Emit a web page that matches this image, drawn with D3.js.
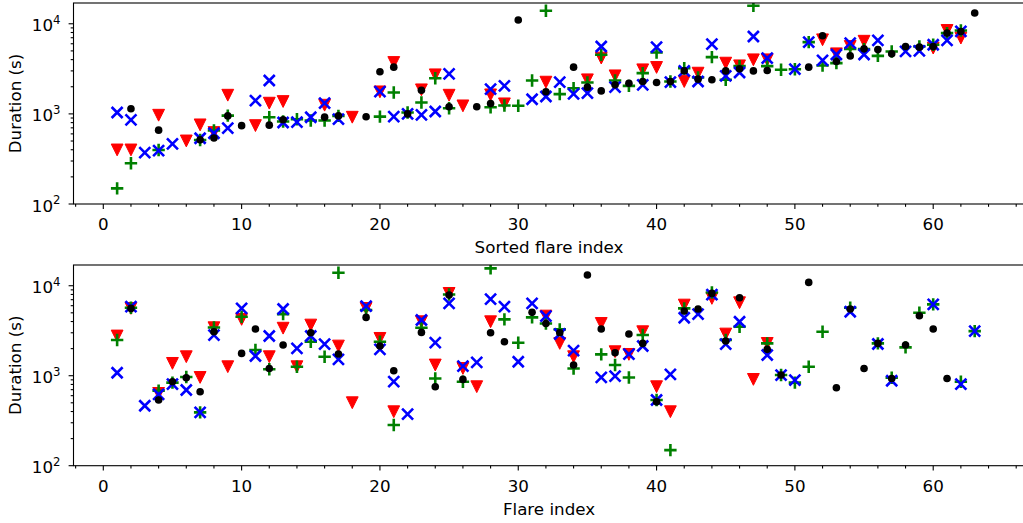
<!DOCTYPE html>
<html>
<head>
<meta charset="utf-8">
<script src="https://cdn.jsdelivr.net/npm/d3@7"></script>
<style>
  html, body { margin: 0; padding: 0; background: #fff; }
  svg { display: block; font-family: "DejaVu Sans", sans-serif; }
</style>
</head>
<body>
<svg id="chart" width="1023" height="523"></svg>
<script>
// Flare numbers shared by both panels
const flareIndex = d3.range(1, 64);

// Durations (s), ordered by sorted flare index (upper panel)
const sortedDot = [
  null,1140,null,660,null,null,515,540,950,740,
  null,750,860,null,null,920,950,null,930,2930,
  3300,1000,1830,null,1200,null,1200,1300,null,11000,
  null,1760,null,3300,1980,1800,2100,2190,2290,2230,
  2290,3000,2430,2390,3000,3160,3000,3030,null,null,
  3300,7360,3810,4400,5270,5170,4640,5600,5500,5600,
  7870,8220,13150];
const sortedCross = [
  1035,858,372,391,464,null,537,610,694,null,
  1406,2345,802,811,918,1315,873,null,null,1764,
  933,1000,975,1062,2783,null,null,1880,2048,null,
  1455,1560,2255,1668,1697,5598,1978,null,2098,5508,
  2255,3006,2286,5944,2643,2878,7228,4160,null,3133,
  6253,3917,4560,6095,4560,6531,null,4932,5012,5848,
  6531,8222,null];
const sortedPlus = [
  149,283,null,398,null,null,514,653,957,null,
  null,918,822,873,843,843,950,null,null,933,
  1726,1035,1336,2490,1156,null,null,1185,1238,1230,
  2345,13940,1656,1928,2229,4526,2345,2048,2831,4800,
  2286,3214,2535,4266,2388,3388,15850,3388,3083,3133,
  6253,3443,3656,5248,5230,4406,4932,null,5598,5848,
  7870,8432,null];
const sortedTriangle = [
  398,398,null,966,null,501,755,621,1611,null,
  741,1315,1371,null,null,1248,null,918,null,1755,
  3715,null,1848,2712,1611,1227,null,1625,1292,null,
  null,2249,null,null,2388,4160,2643,null,3083,3275,
  null,2286,2831,null,3656,3414,3981,3981,null,null,
  null,6636,4642,5598,6400,null,null,null,null,5370,
  8432,6938,null];

// Durations (s), ordered by flare index (lower panel)
const flareDot = [
  null,5598,null,537,858,950,664,3083,null,1771,
  3302,1205,2192,null,3006,null,1741,null,4446,2137,
  1137,null,3030,755,7870,910,null,3006,2388,null,
  5058,3811,3006,1315,13150,3302,1800,2905,2286,514,
  null,5236,5508,8222,2427,7357,null,1963,1017,null,
  10890,null,736,5508,1205,2286,933,2192,4642,3302,
  933,null,null];
const flareCross = [
  1079,5848,464,621,808,694,391,2831,null,5598,
  1656,2763,5508,2013,2763,2249,1517,null,5944,1963,
  858,375,4160,2329,6368,1279,1406,7111,5848,1430,
  6368,4600,2905,1897,null,957,991,1740,2137,537,
  1035,4406,4842,7980,2249,3981,null,1698,1017,895,
  null,null,null,5140,null,2250,879,null,null,6210,
  null,808,3133];
const flarePlus = [
  2490,5700,null,681,839,969,391,3440,null,4526,
  1928,1180,4842,1259,2388,1626,13940,null,5370,2388,
  283,null,3414,933,8000,858,null,15600,4226,2329,
  4446,3811,3275,1205,null,1726,1315,957,2831,537,
  149,5598,null,8400,2500,3499,null,2286,1017,838,
  1259,3083,null,5700,null,2286,950,2066,5012,6210,
  null,858,3133];
const flareTriangle = [
  2763,5598,null,636,1371,1626,957,3414,1259,4226,
  null,1626,3375,1259,3656,null,2137,501,5598,2600,
  398,null,3981,1315,8222,1205,755,3981,null,null,
  null,4600,2286,1626,null,3811,1848,1726,3083,755,
  398,6095,null,7228,2905,6473,910,2286,null,null,
  null,null,null,null,null,null,null,null,null,null,
  null,null,null];

// Axis settings
const xMajorTicks = [0, 10, 20, 30, 40, 50, 60];
const xMinorTicks = [-2,2,4,6,8,12,14,16,18,22,24,26,28,32,34,36,38,42,44,46,48,52,54,56,58,62,64,66];
const yMajorTicks = [100, 1000, 10000];
const yMajorExp = ["2", "3", "4"];
const yLimits = [100, 17000];
const xLimits = [-2.154, 66.6];

const svg = d3.select("#chart");
const left = 73.5, right = 1024.5;
const FONT = 16.7;

const x = d3.scaleLinear().domain(xLimits).range([left, right]);

function drawPanel(top, bottom, series, xLabel) {
  const y = d3.scaleLog().domain(yLimits).range([bottom, top]);
  const g = svg.append("g");

  // y minor ticks (2..9 per decade)
  const yMinor = [];
  [100, 1000, 10000].forEach(d => {
    [2,3,4,5,6,7,8,9].forEach(m => { if (d * m <= yLimits[1]) yMinor.push(d * m); });
  });

  const ax = g.append("g").attr("stroke", "#000").attr("stroke-width", 1.1);
  ax.selectAll(".ymin").data(yMinor).join("line")
    .attr("x1", left - 2.8).attr("x2", left)
    .attr("y1", d => y(d)).attr("y2", d => y(d));
  ax.selectAll(".ymaj").data(yMajorTicks).join("line")
    .attr("x1", left - 4.9).attr("x2", left)
    .attr("y1", d => y(d)).attr("y2", d => y(d));
  ax.selectAll(".xmin").data(xMinorTicks).join("line")
    .attr("x1", d => x(d)).attr("x2", d => x(d))
    .attr("y1", bottom).attr("y2", bottom + 2.8);
  ax.selectAll(".xmaj").data(xMajorTicks).join("line")
    .attr("x1", d => x(d)).attr("x2", d => x(d))
    .attr("y1", bottom).attr("y2", bottom + 4.9);

  // y tick labels as 10^n
  const yl = g.selectAll(".ylab").data(yMajorTicks).join("text")
    .attr("x", 60.5).attr("y", d => y(d) + 7.6)
    .attr("text-anchor", "end").attr("font-size", FONT).attr("fill", "#000");
  yl.append("tspan").text("10");
  yl.append("tspan").attr("dy", -7.6).attr("font-size", 11.7).text((d, i) => yMajorExp[i]);

  // x tick labels
  g.selectAll(".xlab").data(xMajorTicks).join("text")
    .attr("x", d => x(d)).attr("y", bottom + 26)
    .attr("text-anchor", "middle").attr("font-size", FONT).attr("fill", "#000")
    .text(d => d);

  // axis titles
  g.append("text")
    .attr("x", (left + right) / 2).attr("y", bottom + 49)
    .attr("text-anchor", "middle").attr("font-size", FONT).text(xLabel);
  g.append("text")
    .attr("transform", `translate(20.7,${(top + bottom) / 2}) rotate(-90)`)
    .attr("text-anchor", "middle").attr("font-size", FONT).text("Duration (s)");

  // markers
  const pts = arr => flareIndex.map((k, i) => ({ k, v: arr[i] })).filter(d => d.v != null);
  const clip = "clip" + Math.round(top);
  g.append("clipPath").attr("id", clip).append("rect")
    .attr("x", left).attr("y", top).attr("width", right - left).attr("height", bottom - top);
  const m = g.append("g").attr("clip-path", `url(#${clip})`);

  const tw = 5.9;
  m.append("g").selectAll("path").data(pts(series.triangle)).join("path")
    .attr("d", d => {
      const cx = x(d.k), cy = y(d.v);
      return `M${cx - tw},${cy - tw}L${cx + tw},${cy - tw}L${cx},${cy + tw}Z`;
    })
    .attr("fill", "#ff0000").attr("stroke", "#ff0000").attr("stroke-width", 1)
    .attr("stroke-linejoin", "miter");

  const pw = 6.2;
  m.append("g").selectAll("path").data(pts(series.plus)).join("path")
    .attr("d", d => {
      const cx = x(d.k), cy = y(d.v);
      return `M${cx - pw},${cy}L${cx + pw},${cy}M${cx},${cy - pw}L${cx},${cy + pw}`;
    })
    .attr("fill", "none").attr("stroke", "#008000").attr("stroke-width", 2.6);

  const xw = 5.5;
  m.append("g").selectAll("path").data(pts(series.cross)).join("path")
    .attr("d", d => {
      const cx = x(d.k), cy = y(d.v);
      return `M${cx - xw},${cy - xw}L${cx + xw},${cy + xw}M${cx - xw},${cy + xw}L${cx + xw},${cy - xw}`;
    })
    .attr("fill", "none").attr("stroke", "#0000ff").attr("stroke-width", 2.6);

  m.append("g").selectAll("circle").data(pts(series.dot)).join("circle")
    .attr("cx", d => x(d.k)).attr("cy", d => y(d.v)).attr("r", 3.8)
    .attr("fill", "#000");

  // frame
  g.append("rect")
    .attr("x", left).attr("y", top).attr("width", right - left).attr("height", bottom - top)
    .attr("fill", "none").attr("stroke", "#000").attr("stroke-width", 1.1);
}

drawPanel(3, 204,
  { dot: sortedDot, cross: sortedCross, plus: sortedPlus, triangle: sortedTriangle },
  "Sorted flare index");
drawPanel(265, 465.7,
  { dot: flareDot, cross: flareCross, plus: flarePlus, triangle: flareTriangle },
  "Flare index");
</script>
</body>
</html>
